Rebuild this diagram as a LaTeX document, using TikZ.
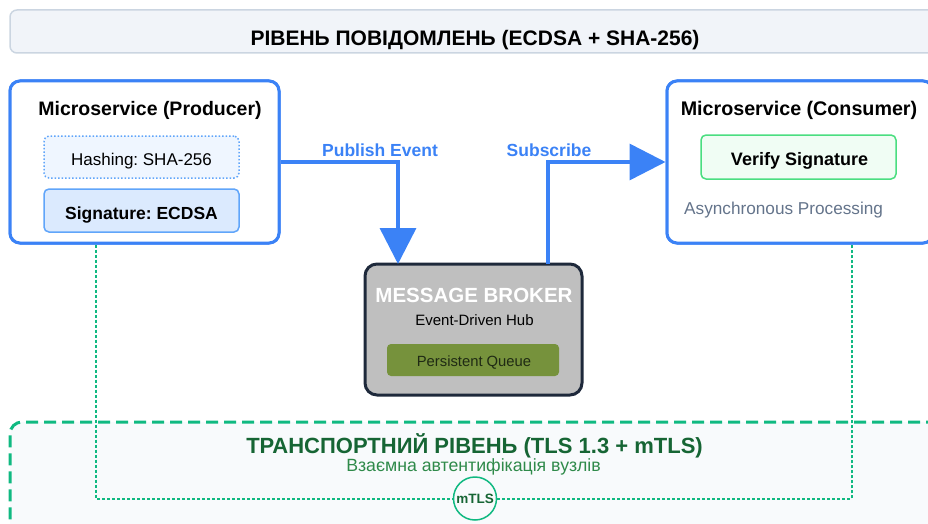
\documentclass[tikz,border=0pt]{standalone}
\usepackage{fontspec}
\setmainfont{Liberation Sans}
\usetikzlibrary{arrows.meta}
\frenchspacing
\definecolor{blueA}{HTML}{3B82F6}
\definecolor{blueL}{HTML}{60A5FA}
\definecolor{blueF}{HTML}{EFF6FF}
\definecolor{blueS}{HTML}{DBEAFE}
\definecolor{bannerF}{HTML}{F1F4F9}
\definecolor{bannerD}{HTML}{CBD5E1}
\definecolor{greenB}{HTML}{10B981}
\definecolor{greenV}{HTML}{4ADE80}
\definecolor{greenVF}{HTML}{F0FDF4}
\definecolor{greenT}{HTML}{166534}
\definecolor{greenS}{HTML}{2F8A4A}
\definecolor{slateT}{HTML}{64748B}
\definecolor{brokerF}{HTML}{BFBFBF}
\definecolor{brokerD}{HTML}{1E293B}
\definecolor{queueF}{HTML}{76923C}
\definecolor{queueT}{HTML}{1F2A14}
\definecolor{transF}{HTML}{F8FAFC}
\newcommand{\fs}[1]{\fontsize{#1}{#1}\selectfont}
\tikzset{
  txt/.style={inner sep=0pt, anchor=base},
  svc/.style={draw=blueA, line width=3pt, rounded corners=10pt, fill=white, inner sep=0pt},
  banner/.style={draw=bannerD, line width=1.5pt, rounded corners=7pt, fill=bannerF, inner sep=0pt},
  hashbox/.style={draw=blueL, line width=1.5pt, dash pattern=on 1.5pt off 2pt, rounded corners=5pt, fill=blueF, inner sep=0pt},
  sigbox/.style={draw=blueL, line width=1.5pt, rounded corners=5pt, fill=blueS, inner sep=0pt},
  verbox/.style={draw=greenV, line width=1.5pt, rounded corners=5pt, fill=greenVF, inner sep=0pt},
  brokerbox/.style={draw=brokerD, line width=3pt, rounded corners=12pt, fill=brokerF, inner sep=0pt},
  queuebox/.style={fill=queueF, rounded corners=4pt, inner sep=0pt},
  transbox/.style={draw=greenB, line width=3pt, dash pattern=on 12pt off 6pt, rounded corners=12pt, fill=transF, inner sep=0pt},
  dotline/.style={draw=greenB, line width=2pt, dash pattern=on 3pt off 2pt},
  arr/.style={draw=blueA, line width=3.5pt, -{Triangle[length=36pt,width=36pt]}},
  mtlsc/.style={circle, draw=greenB, line width=1.5pt, fill=transF, minimum size=43pt, inner sep=0pt},
}
\begin{document}
\begin{tikzpicture}[x=1pt,y=-1pt]
\useasboundingbox (0,0) rectangle (928,524);
\clip (0,0) rectangle (928,524);

% transport layer
\node[transbox, minimum width=940pt, minimum height=178pt] (trans) at (480,511) {};
\node[txt, text=greenT, font=\fs{22}\bfseries] (transtitle) at (474.5,453) {ТРАНСПОРТНИЙ РІВЕНЬ (TLS 1.3 + mTLS)};
\node[txt, text=greenS, font=\fs{17.7}] (transsub) at (473.5,471) {Взаємна автентифікація вузлів};

% banner
\node[banner, minimum width=930pt, minimum height=43pt] (banner) at (475,31.5) {};
\node[txt, font=\fs{21}\bfseries] (bantxt) at (475,46) {РІВЕНЬ ПОВІДОМЛЕНЬ (ECDSA + SHA-256)};

% service boxes
\node[svc, minimum width=269pt, minimum height=162pt] (prod) at (144.5,162) {};
\node[svc, minimum width=266pt, minimum height=162pt] (cons) at (800,162) {};

% dotted mTLS links
\coordinate (pd) at (96,0);
\coordinate (cd) at (852,0);
\node[mtlsc] (mtls) at (475,498.5) {};
\draw[dotline] (pd |- prod.south) |- (mtls.west);
\draw[dotline] (mtls.east) -| (cd |- cons.south);
\node[txt, text=greenT, font=\fs{13.5}\bfseries] (mtlstxt) at (475,503) {mTLS};

% redraw service boxes over the line ends
\node[svc, minimum width=269pt, minimum height=162pt] (prod2) at (144.5,162) {};
\node[svc, minimum width=266pt, minimum height=162pt] (cons2) at (800,162) {};

% producer contents
\node[txt, font=\fs{19.5}\bfseries] (prodtitle) at (150,116) {Microservice (Producer)};
\node[hashbox, minimum width=195pt, minimum height=42pt] (hash) at (141.5,157) {};
\node[txt, font=\fs{17}] (hashtxt) at (141.5,165.5) {Hashing: SHA-256};
\node[sigbox, minimum width=195pt, minimum height=43pt] (sig) at (141.5,210.5) {};
\node[txt, font=\fs{17.5}\bfseries] (sigtxt) at (141.5,219) {Signature: ECDSA};

% consumer contents
\node[txt, font=\fs{19.7}\bfseries] (constitle) at (799,116) {Microservice (Consumer)};
\node[verbox, minimum width=195pt, minimum height=44pt] (ver) at (798.5,157) {};
\node[txt, font=\fs{18}\bfseries] (vertxt) at (799.5,165.5) {Verify Signature};
\node[txt, anchor=base west, text=slateT, font=\fs{17.2}] (async) at (684,214) {Asynchronous Processing};

% broker
\node[brokerbox, minimum width=217pt, minimum height=131pt] (broker) at (473.5,329.5) {};
\node[txt, text=white, font=\fs{20.5}\bfseries] (brtitle) at (474,302.5) {MESSAGE BROKER};
\node[txt, font=\fs{15}] (brsub) at (474.5,325) {Event-Driven Hub};
\node[queuebox, minimum width=172pt, minimum height=32pt] (queue) at (473,360) {};
\node[txt, text=queueT, font=\fs{14.8}] (queuetxt) at (474,366) {Persistent Queue};

% arrows
\coordinate (pubin) at (398,264);
\coordinate (subout) at (548,264);
\draw[arr] (prod.east) -| (pubin);
\draw[arr] (subout) |- (cons.west);
\node[txt, text=blueA, font=\fs{17.5}\bfseries] (publbl) at (380,156) {Publish Event};
\node[txt, text=blueA, font=\fs{17.5}\bfseries] (sublbl) at (549,156) {Subscribe};
\end{tikzpicture}
\end{document}
